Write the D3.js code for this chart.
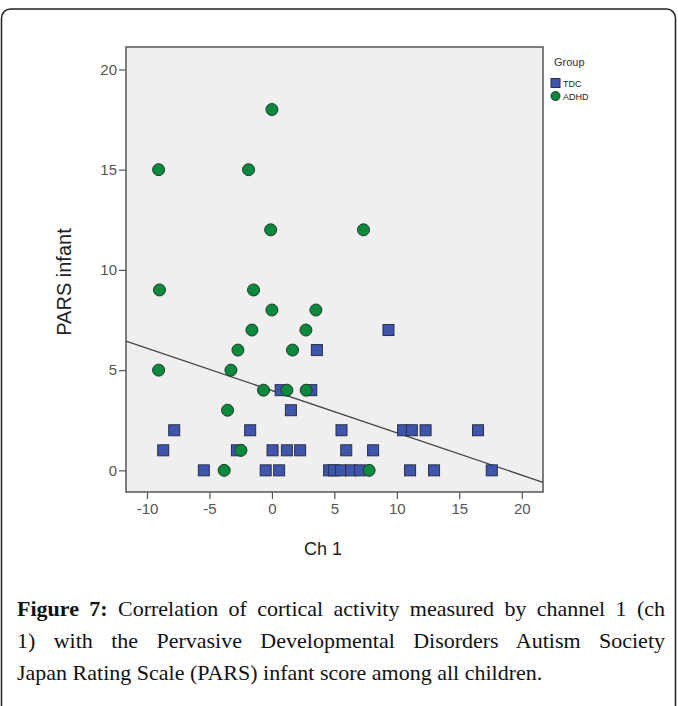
<!DOCTYPE html>
<meta charset="utf-8">
<style>

body {
  margin: 0;
  background: #fff;
}

svg {
  position: absolute;
  left: 0;
  top: 0;
}

.axis path {
  display: none;
}

.axis line {
  stroke: #555;
  stroke-width: 1.2;
}

.axis text {
  font: 15px "Liberation Sans", Arial, sans-serif;
  fill: #555;
}

.caption {
  position: absolute;
  left: 17px;
  top: 593px;
  width: 648px;
  font-family: "Liberation Serif", serif;
  font-size: 22px;
  color: #111;
}

.caption div {
  height: 32px;
  line-height: 32px;
  white-space: nowrap;
}

.caption .j {
  text-align: justify;
  text-align-last: justify;
}

</style>
<body>
<svg width="678" height="706"></svg>
<div class="caption">
  <div class="j"><b>Figure 7:</b> Correlation of cortical activity measured by channel 1 (ch</div>
  <div class="j">1) with the Pervasive Developmental Disorders Autism Society</div>
  <div>Japan Rating Scale (PARS) infant score among all children.</div>
</div>
<script src="https://d3js.org/d3.v7.min.js"></script>
<script>

// TDC group (blue squares): Ch 1 value and PARS infant score
var tdcX = [9.33, 3.6, 0.7, 3.15, 1.52,
            -7.82, -1.74, 5.57, 10.5, 11.2, 12.3, 16.5,
            -8.7, -2.8, 0.05, 1.2, 2.26, 5.95, 8.1,
            -5.45, -0.5, 0.58, 4.58, 4.98, 5.54, 6.34, 7.06, 11.06, 12.98, 17.6];
var tdcY = [7, 6, 4, 4, 3,
            2, 2, 2, 2, 2, 2, 2,
            1, 1, 1, 1, 1, 1, 1,
            0, 0, 0, 0, 0, 0, 0, 0, 0, 0, 0];

// ADHD group (green circles)
var adhdX = [0, -9.07, -1.87, -0.1, 7.33, -9.0, -1.47, 0, 3.52, -1.6, 2.72,
             -2.72, 1.65, -9.07, -3.28, -0.67, 1.2, 2.74, -3.55, -2.48, -3.82, 7.78];
var adhdY = [18, 15, 15, 12, 12, 9, 9, 8, 8, 7, 7,
             6, 6, 5, 5, 4, 4, 4, 3, 1, 0, 0];

// fit line over all children
var fitIntercept = 3.98,
    fitSlope = -0.211;

var xTicks = [-10, -5, 0, 5, 10, 15, 20],
    yTicks = [0, 5, 10, 15, 20];

var groups = ["TDC", "ADHD"];
var colors = {TDC: "#3f55ad", ADHD: "#0b8a3e"};

var svg = d3.select("svg");

// outer figure box
svg.append("rect")
    .attr("x", 1.5)
    .attr("y", 9)
    .attr("width", 674)
    .attr("height", 760)
    .attr("rx", 9)
    .attr("fill", "none")
    .attr("stroke", "#222")
    .attr("stroke-width", 1.5);

var plot = {left: 126, top: 47, right: 543, bottom: 492};

var x = d3.scaleLinear().domain([-11.68, 21.7]).range([plot.left, plot.right]),
    y = d3.scaleLinear().domain([-1.08, 21.12]).range([plot.bottom, plot.top]);

// plain hyphen for negatives, like the original
var fmt = function(d) { return String(d); };

// plot background and frame
svg.append("rect")
    .attr("x", plot.left)
    .attr("y", plot.top)
    .attr("width", plot.right - plot.left)
    .attr("height", plot.bottom - plot.top)
    .attr("fill", "#efefef")
    .attr("stroke", "#555")
    .attr("stroke-width", 1.5);

svg.append("g")
    .attr("class", "axis")
    .attr("transform", "translate(0," + plot.bottom + ")")
    .call(d3.axisBottom(x).tickValues(xTicks).tickFormat(fmt).tickSize(7).tickPadding(4));

svg.append("g")
    .attr("class", "axis")
    .attr("transform", "translate(" + plot.left + ",0)")
    .call(d3.axisLeft(y).tickValues(yTicks).tickFormat(fmt).tickSize(7).tickPadding(2));

// axis titles
svg.append("text")
    .attr("x", 323)
    .attr("y", 555)
    .attr("text-anchor", "middle")
    .style("font", "18px 'Liberation Sans', Arial, sans-serif")
    .style("fill", "#222")
    .text("Ch 1");

svg.append("text")
    .attr("transform", "translate(71,282) rotate(-90)")
    .attr("text-anchor", "middle")
    .style("font", "20px 'Liberation Sans', Arial, sans-serif")
    .style("fill", "#222")
    .text("PARS infant");

// fit line
var fitData = x.domain().map(function(v) { return [v, fitIntercept + fitSlope * v]; });
svg.append("path")
    .datum(fitData)
    .attr("fill", "none")
    .attr("stroke", "#444")
    .attr("stroke-width", 1.3)
    .attr("d", d3.line()
        .x(function(d) { return x(d[0]); })
        .y(function(d) { return y(d[1]); }));

// TDC squares
var sq = 11;
svg.append("g").selectAll("rect")
    .data(d3.zip(tdcX, tdcY))
    .enter().append("rect")
      .attr("x", function(d) { return x(d[0]) - sq / 2; })
      .attr("y", function(d) { return y(d[1]) - sq / 2; })
      .attr("width", sq)
      .attr("height", sq)
      .attr("fill", colors.TDC)
      .attr("stroke", "#2a2f48")
      .attr("stroke-width", 1);

// ADHD circles
svg.append("g").selectAll("circle")
    .data(d3.zip(adhdX, adhdY))
    .enter().append("circle")
      .attr("cx", function(d) { return x(d[0]); })
      .attr("cy", function(d) { return y(d[1]); })
      .attr("r", 6)
      .attr("fill", colors.ADHD)
      .attr("stroke", "#1f3a28")
      .attr("stroke-width", 1);

// legend
var legend = svg.append("g").attr("transform", "translate(551,0)");
legend.append("text")
    .attr("x", 3)
    .attr("y", 66)
    .style("font", "11px 'Liberation Sans', Arial, sans-serif")
    .style("fill", "#333")
    .text("Group");

groups.forEach(function(g, i) {
  var cy = 83 + i * 13;
  if (g === "TDC") {
    legend.append("rect")
        .attr("x", 0).attr("y", cy - 4.5)
        .attr("width", 9).attr("height", 9)
        .attr("fill", colors.TDC).attr("stroke", "#2a2f48");
  } else {
    legend.append("circle")
        .attr("cx", 4.5).attr("cy", cy)
        .attr("r", 4.5)
        .attr("fill", colors.ADHD).attr("stroke", "#1f3a28");
  }
  legend.append("text")
      .attr("x", 12)
      .attr("y", cy + 3.5)
      .style("font", "9px 'Liberation Sans Narrow', 'Liberation Sans', Arial, sans-serif")
      .style("fill", "#222")
      .text(g);
});

</script>
